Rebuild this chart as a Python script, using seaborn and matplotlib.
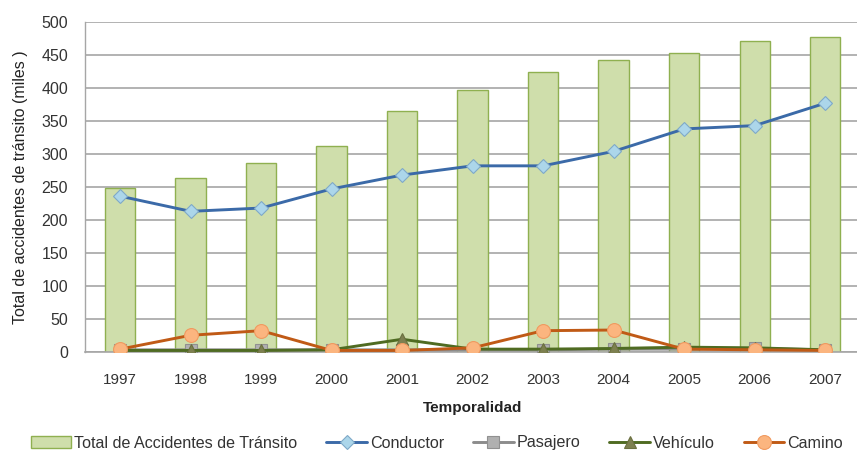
import numpy as np
import pandas as pd
import matplotlib
matplotlib.use('Agg')
import matplotlib.pyplot as plt
import seaborn as sns

years = ['1997', '1998', '1999', '2000', '2001', '2002', '2003', '2004', '2005', '2006', '2007']
total = [248, 264, 286, 312, 365, 397, 424, 442, 453, 471, 477]
conductor = [236, 213, 218, 247, 268, 282, 282, 304, 338, 343, 377]
pasajero = [3, 3, 3, 3, 3, 3, 3, 4, 4, 5, 3]
vehiculo = [2, 2, 2, 3, 19, 4, 4, 5, 7, 6, 3]
camino = [4, 25, 32, 2, 2, 6, 32, 33, 4, 3, 2]

sns.set_theme(style='white')
plt.rcParams['font.family'] = ['Liberation Sans', 'DejaVu Sans']

fig, ax = plt.subplots(figsize=(8.57, 4.51), dpi=100)
fig.subplots_adjust(left=0.099, right=1.004, top=0.951, bottom=0.22)

df = pd.DataFrame({'year': years, 'total': total})
sns.barplot(data=df, x='year', y='total', ax=ax, color='#cfdeab', width=0.43,
            edgecolor='#8fb050', linewidth=1.0, saturation=1, zorder=2,
            label='Total de Accidentes de Tránsito')

x = np.arange(len(years))
ax.plot(x, conductor, color='#3b6aa8', lw=2.1, marker='D', ms=7,
        mfc='#acd6ea', mec='#7fa9c8', mew=0.8, zorder=5, label='Conductor')
ax.plot(x, pasajero, color='#8c8c8c', lw=2.1, marker='s', ms=8,
        mfc='#b0b0b0', mec='#909090', mew=0.8, zorder=3, label='Pasajero')
ax.plot(x, vehiculo, color='#4f6b22', lw=2.1, marker='^', ms=9,
        mfc='#7d8050', mec='#6b7040', mew=0.8, zorder=4, label='Vehículo')
ax.plot(x, camino, color='#c05a16', lw=2.1, marker='o', ms=10,
        mfc='#fbb57f', mec='#f09a60', mew=0.8, zorder=6, label='Camino')

ax.set_ylim(0, 500)
ax.set_xlim(-0.5, 10.5)
ax.set_yticks(range(0, 501, 50))
ax.yaxis.grid(True, color='#a6a6a6', lw=1.2, zorder=0)
ax.set_axisbelow(True)
for s in ['top', 'right']:
    ax.spines[s].set_visible(False)
ax.spines['left'].set_color('#a6a6a6')
ax.spines['bottom'].set_color('#a6a6a6')
ax.spines['left'].set_linewidth(1.0)
ax.spines['bottom'].set_linewidth(1.2)

ax.tick_params(axis='x', length=0, labelsize=11, colors='#333333', pad=15)
ax.tick_params(axis='y', length=5, color='#a6a6a6', direction='out', labelsize=11.5,
               colors='#333333', pad=7)
ax.set_xticks(np.arange(-0.5, len(years), 1), minor=True)
ax.tick_params(axis='x', which='minor', length=5, color='#a6a6a6', direction='out')

ax.set_xlabel('Temporalidad', fontsize=11, fontweight='bold', color='#222222', labelpad=10)
ax.set_ylabel('Total de accidentes de tránsito (miles )', fontsize=11.5, color='#222222', labelpad=10)

if ax.get_legend() is not None:
    ax.get_legend().remove()

handles, labels = ax.get_legend_handles_labels()
order = [labels.index(l) for l in ['Total de Accidentes de Tránsito', 'Conductor', 'Pasajero', 'Vehículo', 'Camino']]
leg = fig.legend([handles[i] for i in order], [labels[i] for i in order],
                 loc='center left', bbox_to_anchor=(0.036, 1 - 443 / 451), ncol=5, frameon=False,
                 fontsize=11.6, handlelength=2.5, columnspacing=1.8, handletextpad=0.2,
                 borderaxespad=0, borderpad=0)
for t in leg.get_texts():
    t.set_color('#333333')

fig.savefig('out.png', dpi=100)
